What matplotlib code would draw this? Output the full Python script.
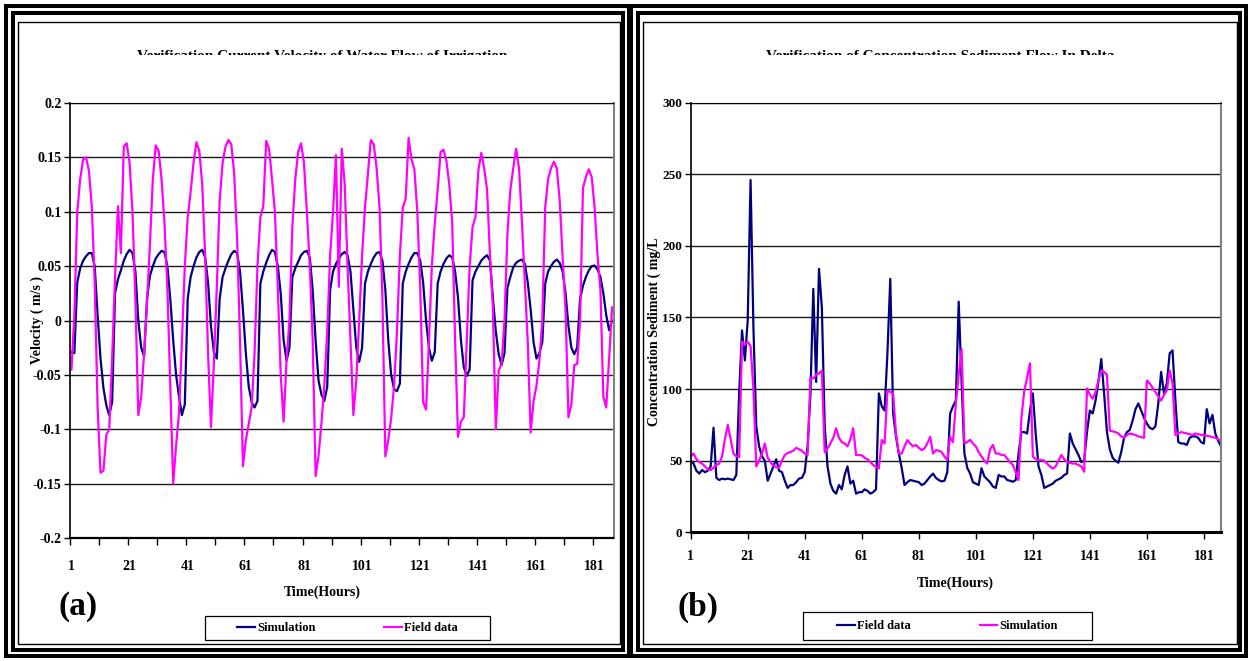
import matplotlib
matplotlib.use("Agg")
import matplotlib.pyplot as plt
from matplotlib.patches import Rectangle
from matplotlib.transforms import Bbox, TransformedBbox
import numpy as np

W, H = 1250, 661

# ---- data ----
hours = np.arange(1, 188)

# (a) velocity, m/s
vel_sim = [
    -0.029, -0.030, 0.035, 0.048, 0.055, 0.059, 0.062, 0.062, 0.050, 0.005,
    -0.035, -0.062, -0.078, -0.087, -0.075, 0.025, 0.038, 0.046, 0.055, 0.061,
    0.065, 0.062, 0.045, 0.0, -0.025, -0.033, 0.02, 0.041, 0.05, 0.057,
    0.061, 0.064, 0.063, 0.05, 0.02, -0.018, -0.05, -0.07, -0.087, -0.077,
    0.02, 0.04, 0.05, 0.058, 0.063, 0.065, 0.058, 0.035, -0.005, -0.029,
    -0.035, 0.02, 0.04, 0.048, 0.055, 0.061, 0.064, 0.062, 0.045, 0.01,
    -0.03, -0.061, -0.075, -0.080, -0.074, 0.034, 0.045, 0.053, 0.06, 0.065,
    0.063, 0.05, 0.025, -0.018, -0.037, -0.025, 0.04, 0.048, 0.054, 0.06,
    0.063, 0.064, 0.058, 0.028, -0.018, -0.055, -0.068, -0.074, -0.061, 0.028,
    0.045, 0.052, 0.057, 0.061, 0.063, 0.06, 0.045, 0.01, -0.025, -0.038,
    -0.025, 0.034, 0.045, 0.052, 0.058, 0.062, 0.063, 0.055, 0.028, -0.018,
    -0.05, -0.063, -0.065, -0.058, 0.034, 0.045, 0.052, 0.058, 0.062, 0.062,
    0.055, 0.035, 0.0, -0.025, -0.037, -0.029, 0.034, 0.045, 0.052, 0.057,
    0.06, 0.058, 0.045, 0.021, -0.018, -0.043, -0.051, -0.045, 0.037, 0.045,
    0.05, 0.055, 0.058, 0.06, 0.055, 0.021, -0.01, -0.031, -0.041, -0.03,
    0.03, 0.04, 0.049, 0.053, 0.055, 0.056, 0.052, 0.035, 0.01, -0.02,
    -0.035, -0.03, -0.02, 0.034, 0.045, 0.05, 0.054, 0.056, 0.053, 0.045,
    0.025, -0.005, -0.025, -0.031, -0.025, 0.02, 0.032, 0.04, 0.046, 0.05,
    0.0505, 0.047, 0.04, 0.025, 0.005, -0.009, 0.0,
]
vel_field = [
    -0.045, 0.005, 0.10, 0.13, 0.148, 0.150, 0.138, 0.105, 0.035, -0.08,
    -0.140, -0.138, -0.105, -0.100, -0.035, 0.04, 0.105, 0.062, 0.160, 0.163,
    0.145, 0.10, 0.02, -0.087, -0.07, -0.03, 0.016, 0.07, 0.13, 0.161,
    0.156, 0.13, 0.09, 0.03, -0.06, -0.150, -0.115, -0.085, -0.02, 0.05,
    0.095, 0.118, 0.145, 0.164, 0.156, 0.125, 0.06, -0.03, -0.098, -0.04,
    0.03, 0.11, 0.145, 0.16, 0.166, 0.162, 0.135, 0.075, -0.018, -0.134,
    -0.11, -0.095, -0.08, -0.03, 0.05, 0.095, 0.105, 0.165, 0.158, 0.13,
    0.10, 0.03, -0.05, -0.093, -0.037, 0.0, 0.086, 0.13, 0.155, 0.163,
    0.145, 0.10, 0.05, -0.018, -0.143, -0.125, -0.095, -0.06, -0.01, 0.06,
    0.10, 0.152, 0.031, 0.158, 0.126, 0.05, -0.018, -0.087, -0.055, 0.0,
    0.06, 0.104, 0.135, 0.166, 0.162, 0.14, 0.104, 0.02, -0.125, -0.11,
    -0.09, -0.06, -0.01, 0.06, 0.104, 0.112, 0.168, 0.148, 0.139, 0.10,
    0.03, -0.075, -0.082, -0.02, 0.05, 0.089, 0.12, 0.155, 0.157, 0.147,
    0.125, 0.09, -0.018, -0.107, -0.093, -0.089, -0.02, 0.05, 0.086, 0.095,
    0.138, 0.154, 0.14, 0.12, 0.06, 0.012, -0.100, -0.046, -0.040, 0.0,
    0.08, 0.12, 0.14, 0.158, 0.14, 0.09, 0.034, -0.02, -0.103, -0.074,
    -0.06, -0.037, 0.0, 0.104, 0.13, 0.14, 0.146, 0.14, 0.11, 0.058,
    0.01, -0.089, -0.077, -0.041, -0.040, 0.0, 0.122, 0.132, 0.139, 0.132,
    0.104, 0.06, 0.028, -0.070, -0.080, -0.035, 0.012,
]

# (b) sediment concentration, mg/L
conc_field = [
    50, 48, 43, 41, 43.5, 42, 43, 46, 73, 38,
    36.5, 37.5, 37, 37.5, 37, 36.5, 40, 97, 141, 120,
    148, 246, 143, 74, 60, 53, 50, 36, 41, 46,
    51, 43, 42, 36, 31, 33, 33, 35, 37.5, 38,
    42, 60, 97, 170, 105, 184, 157, 74, 46, 34,
    29, 27, 33, 30, 40, 46, 34, 36, 27, 28,
    28, 30, 29, 27, 28, 30, 97, 88, 85, 125,
    177, 83, 67, 55, 45, 33, 35, 36.5, 36, 35.5,
    35, 33, 34, 36.5, 39, 41, 38, 36.5, 35.5, 36,
    42, 83, 88, 92, 161, 106, 55, 45, 41, 35,
    34, 33, 44.7, 39, 37, 35, 32, 31, 40, 39,
    39, 36.5, 36, 35.3, 36.5, 55, 70, 70, 69, 85,
    97, 69, 46, 40, 31, 32, 33, 34, 36, 37,
    38, 40, 41, 69, 62, 58, 54, 49, 50, 70,
    85, 83, 92, 105, 121, 97, 70, 58, 52, 50,
    48.6, 56, 66, 70, 71.5, 78, 86, 90, 85, 80,
    76, 73, 72, 74, 90, 112, 97, 104, 125, 127,
    92, 63, 62, 62, 61, 66, 67, 67, 66, 63,
    62, 86, 76, 82, 69, 64, 60,
]
conc_sim = [
    53, 55, 51, 49, 48, 46, 44, 43.5, 45, 47,
    48, 53, 65, 75, 65, 55, 53, 52.5, 133, 131,
    133, 130, 100, 46, 50, 55, 62, 52, 49, 46.6,
    45.5, 45, 50, 54, 55.4, 56, 57, 59, 58, 57,
    55, 54, 108, 107.5, 110, 111, 112.8, 56, 58.6, 62,
    66, 72.6, 66, 63, 62, 60, 65, 72.6, 54, 54,
    53.8, 52, 51, 49, 47, 45.5, 44.6, 64.5, 62, 99,
    98, 97, 69, 55, 55, 60, 64.4, 62, 60, 61,
    59, 57.4, 58.6, 62, 66.7, 55, 57.4, 57, 56, 53,
    50.5, 66.7, 63, 90, 110, 128, 62, 63, 64.5, 62,
    60, 56, 53, 50, 48, 58, 61, 55, 55, 54,
    54, 51.5, 49, 47, 42, 36.5, 80, 99, 108, 118,
    53, 51, 50.5, 50.5, 50, 48, 46, 44.5, 46, 50,
    54, 51, 49, 48.5, 48, 48, 47, 46, 42.3, 100.5,
    96, 93.3, 98, 106, 113, 112, 110, 71, 70.5, 70,
    69, 67, 66, 68, 69, 68.5, 68, 67, 66.5, 66,
    106, 104, 101, 98, 95, 92, 96, 99, 113, 104,
    68, 69, 70, 69.5, 69, 68.5, 68, 69, 68.5, 68,
    68, 67.5, 67, 66.5, 66, 65, 64,
]

vel_ticks = [-0.2, -0.15, -0.1, -0.05, 0, 0.05, 0.1, 0.15, 0.2]
vel_tick_labels = ["-0.2", "-0.15", "-0.1", "-0.05", "0", "0.05", "0.1", "0.15", "0.2"]
conc_ticks = [0, 50, 100, 150, 200, 250, 300]
hour_ticks = [1, 21, 41, 61, 81, 101, 121, 141, 161, 181]

title_a = "Verification Current Velocity of Water Flow of Irrigation"
title_b = "Verification of Concentration Sediment Flow In Delta"

NAVY = "#000080"
MAGENTA = "#FF00FF"

plt.rcParams["font.family"] = ["Liberation Serif", "DejaVu Serif"]
plt.rcParams["font.weight"] = "bold"


def fx(px):
    return px / W


def fy(py):
    return 1 - py / H


fig = plt.figure(figsize=(W / 100, H / 100), dpi=100)


def frame(x0, y0, x1, y1, lw, color="black"):
    fig.patches.append(Rectangle((fx(x0), fy(y1)), fx(x1) - fx(x0), fy(y0) - fy(y1),
                                 transform=fig.transFigure, fill=False,
                                 lw=lw, edgecolor=color, zorder=0))


# page style borders around each panel
for off, right in ((0, 629), (625, 1246)):
    frame(6 + off, 6, right, 656, 2.9)
    frame(13 + off, 13, right - 6, 650, 2.9)
    frame(18 + off, 22, right - 9, 644, 1.0)


def style_axes(ax, tick_size):
    ax.set_facecolor("white")
    ax.yaxis.grid(True, color="#1a1a1a", lw=1.0)
    ax.set_axisbelow(True)
    ax.spines["top"].set_color("black")
    ax.spines["right"].set_color("#808080")
    ax.spines["right"].set_linewidth(1.5)
    ax.spines["left"].set_linewidth(1.2)
    ax.spines["bottom"].set_linewidth(1.6)
    ax.tick_params(axis="y", direction="out", length=4, width=1, labelsize=tick_size, pad=2)
    for t in ax.get_xticklabels() + ax.get_yticklabels():
        t.set_fontweight("bold")


# ---- panel (a) ----
ax1 = fig.add_axes([fx(70), fy(538), fx(613.5) - fx(70), fy(103) - fy(538)])
ax1.plot(hours, vel_sim, color=NAVY, lw=1.6, label="Simulation")
ax1.plot(hours, vel_field, color=MAGENTA, lw=1.6, label="Field data")
ax1.set_xlim(0.5, len(hours) + 0.5)
ax1.set_ylim(-0.2, 0.2)
ax1.set_yticks(vel_ticks)
ax1.set_yticklabels(vel_tick_labels)
ax1.set_xticks(hour_ticks)
ax1.set_xticklabels([str(h) for h in hour_ticks])
ax1.set_xticks(np.arange(0.5, len(hours), 10), minor=True)
ax1.tick_params(axis="x", which="major", length=0, labelsize=10, pad=16)
ax1.tick_params(axis="x", which="minor", length=5, width=1, direction="out")
style_axes(ax1, 10)

# ---- panel (b) ----
ax2 = fig.add_axes([fx(690.7), fy(532.3), fx(1221) - fx(690.7), fy(102.7) - fy(532.3)])
ax2.plot(hours, conc_field, color=NAVY, lw=1.6, label="Field data")
ax2.plot(hours, conc_sim, color=MAGENTA, lw=1.6, label="Simulation")
ax2.set_xlim(1, len(hours))
ax2.set_ylim(0, 300)
ax2.set_yticks(conc_ticks)
ax2.set_xticks(hour_ticks)
ax2.tick_params(axis="x", length=5, width=1, direction="out", labelsize=10, pad=8)
style_axes(ax2, 9.5)
ax2.spines["bottom"].set_linewidth(2.2)

# ---- titles (cut off at the top edge in the original) ----
for txt, cx, left, right in ((title_a, 322, 20, 620), (title_b, 940, 640, 1235)):
    t = fig.text(fx(cx), fy(50), txt, ha="center", va="top", fontsize=11, fontweight="bold")
    clip = Bbox([[fx(left), fy(55)], [fx(right), fy(40)]])
    t.set_clip_box(TransformedBbox(clip, fig.transFigure))
    t.set_clip_on(True)

# ---- axis labels and panel letters ----
fig.text(fx(37), fy(320), "Velocity ( m/s )", rotation=90, ha="center", va="center",
         fontsize=10, fontweight="bold")
fig.text(fx(654), fy(332), "Concentration Sediment ( mg/L", rotation=90, ha="center",
         va="center", fontsize=10, fontweight="bold")
fig.text(fx(322), fy(592), "Time(Hours)", ha="center", va="center", fontsize=10, fontweight="bold")
fig.text(fx(955), fy(583), "Time(Hours)", ha="center", va="center", fontsize=10, fontweight="bold")
fig.text(fx(78), fy(606), "(a)", ha="center", va="center", fontsize=24, fontweight="bold")
fig.text(fx(698), fy(607), "(b)", ha="center", va="center", fontsize=24, fontweight="bold")

# ---- legends in boxed strips under each plot ----
for ax, (x0, y0, x1, y1) in ((ax1, (205, 616, 490, 640)), (ax2, (803, 612, 1092, 640))):
    frame(x0, y0, x1, y1, 0.9)
    ax.legend(loc="center", bbox_to_anchor=(fx((x0 + x1) / 2), fy((y0 + y1) / 2)),
              bbox_transform=fig.transFigure, ncol=2, frameon=False,
              columnspacing=5.5, handlelength=1.4, handletextpad=0.2,
              prop={"size": 9, "weight": "bold"})

fig.savefig("out.png", dpi=100, facecolor="white")
